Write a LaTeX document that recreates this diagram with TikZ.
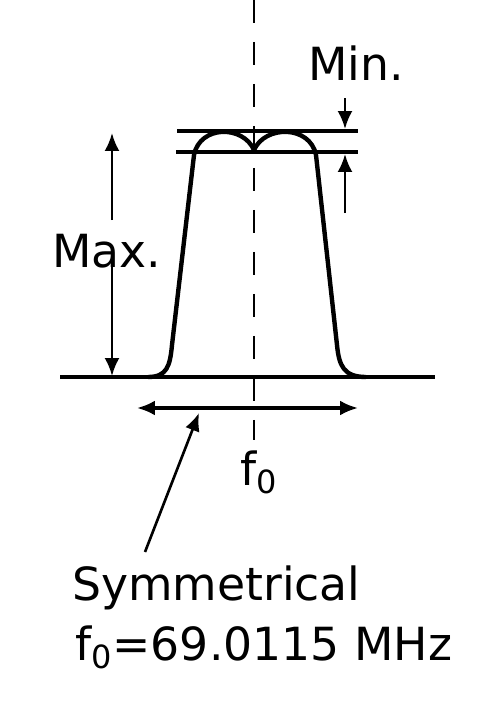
\documentclass[tikz,border=0pt]{standalone}
\usepackage{fontspec}
\setmainfont{DejaVu Sans}
\usetikzlibrary{arrows.meta}
\tikzset{
  guide/.style={line width=2.2pt},
  resp/.style={line width=2.5pt,line join=round},
  dimarrow/.style={-{Latex[length=0.36cm,width=0.3cm]},line width=1.5pt},
  spanarrow/.style={{Latex[length=0.36cm,width=0.3cm]}-{Latex[length=0.36cm,width=0.3cm]},line width=1.8pt},
  centre/.style={line width=1.6pt,dash pattern=on 0.46cm off 0.38cm},
  lbl/.style={font=\fontsize{26}{30}\selectfont,inner sep=0pt}
}

\begin{document}
\begin{tikzpicture}[x=0.02cm,y=-0.02cm]
  \useasboundingbox (0,0) rectangle (492,703);
  % centre frequency
  \draw[centre] (254,0) -- (254,440);
  % base line and ripple limits
  \draw[guide] (60,377) -- (435,377);
  \draw[guide] (177,131) -- (358,131);
  \draw[guide] (176,152) -- (358,152);
  % passband response
  \draw[resp] (148,377) .. controls (167,377) and (170,366) .. (172,345)
    -- (194,155) .. controls (200,125) and (243,125) .. (254,150)
    .. controls (265,125) and (310,125) .. (316,155)
    -- (337,345) .. controls (339,366) and (344,377) .. (366,377);
  % labels
  \node[lbl,anchor=base] (minlbl) at (356,80) {Min.};
  \node[lbl,anchor=base] (maxlbl) at (107,267) {Max.};
  \node[lbl,anchor=base] (flbl) at (259,485) {f\textsubscript{0}};
  \node[lbl,anchor=base west] (symlbl) at (72,600) {Symmetrical};
  \node[lbl,anchor=base west] (freqlbl) at (75,660) {f\textsubscript{0}=69.0115 MHz};
  % dimension arrows
  \coordinate (mina) at (345,98);   \coordinate (minb) at (345,129);
  \coordinate (minc) at (345,213);  \coordinate (mind) at (345,154);
  \coordinate (maxa) at (112,220);  \coordinate (maxb) at (112,133);
  \coordinate (maxc) at (112,262);  \coordinate (maxd) at (112,376);
  \foreach \a/\b in {mina/minb,minc/mind,maxa/maxb,maxc/maxd}{\draw[dimarrow] (\a)--(\b);}
  \coordinate (spanl) at (137,408); \coordinate (spanr) at (358,408);
  \draw[spanarrow] (spanl) -- (spanr);
  \coordinate (ptail) at (145,552); \coordinate (phead) at (199,413);
  \draw[dimarrow] (ptail) -- (phead);
\end{tikzpicture}
\end{document}
